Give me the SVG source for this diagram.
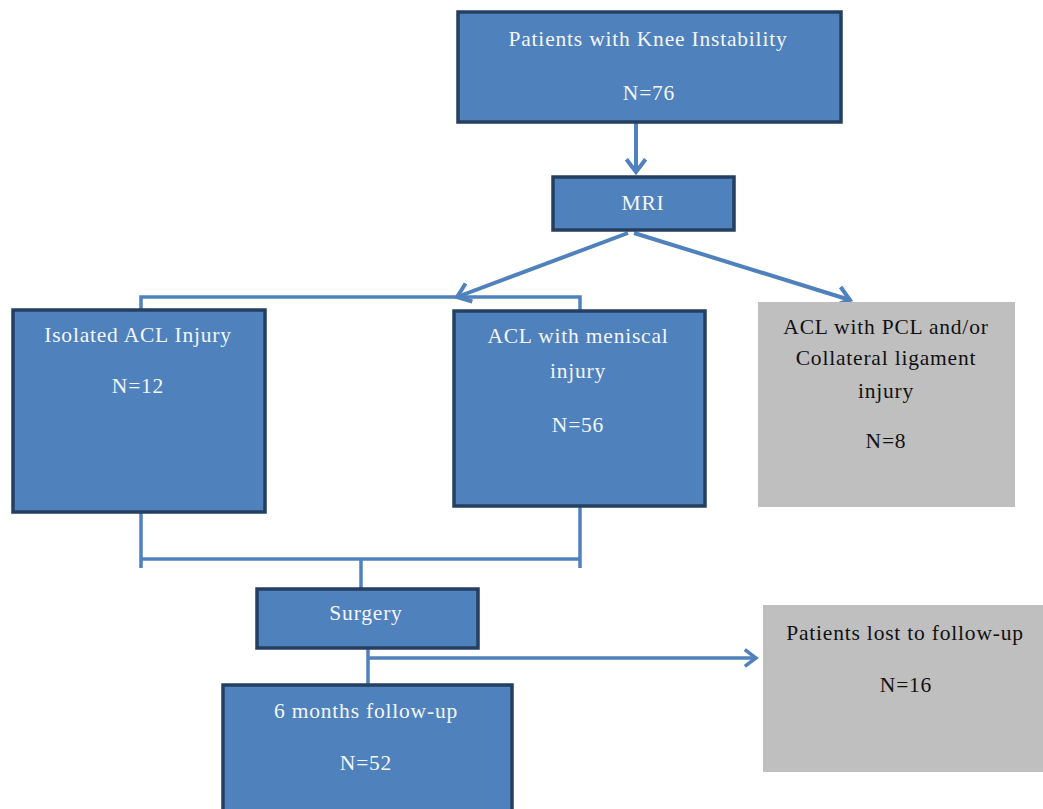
<svg xmlns="http://www.w3.org/2000/svg" width="1043" height="809" viewBox="0 0 1043 809">
<defs>
<marker id="arr" markerWidth="6" markerHeight="6" refX="4.2" refY="3" orient="auto" markerUnits="strokeWidth" viewBox="0 0 6 6">
<polyline points="1,0.6 4.2,3 1,5.4" fill="none" stroke="#4F81BD" stroke-width="1"/>
</marker>
<style>
.bx{fill:#4F81BD;stroke:#243F60;stroke-width:3.5}
.gb{fill:#BFBFBF}
.t{font-family:"Liberation Serif","Times New Roman",serif;font-size:21.5px;letter-spacing:0.8px;text-anchor:middle;fill:#F4F6FA}
.tk{font-family:"Liberation Serif","Times New Roman",serif;font-size:21.5px;letter-spacing:0.8px;text-anchor:middle;fill:#111111}
.c{fill:none;stroke:#4F81BD;stroke-width:4}
.c3{fill:none;stroke:#4F81BD;stroke-width:3.5}
</style>
</defs>
<rect width="1043" height="809" fill="#FFFFFF"/>
<g id="connectors">
<line class="c" x1="636" y1="123" x2="636" y2="172" marker-end="url(#arr)"/>
<line class="c" x1="628" y1="233" x2="457" y2="297" marker-end="url(#arr)"/>
<line class="c" x1="634" y1="233" x2="850" y2="300" marker-end="url(#arr)"/>
<polyline class="c3" points="141,309 141,297 580,297 580,310"/>
<polyline class="c3" points="141,513 141,568"/>
<polyline class="c3" points="580,507 580,568"/>
<line class="c3" x1="141" y1="559" x2="580" y2="559"/>
<line class="c3" x1="361" y1="559" x2="361" y2="589"/>
<line class="c3" x1="368" y1="649" x2="368" y2="685"/>
<line class="c3" x1="368" y1="658" x2="756" y2="658" marker-end="url(#arr)"/>
</g>
<g id="n1">
<rect class="bx" x="458" y="12" width="383" height="110"/>
<text class="t" x="648" y="46">Patients with Knee Instability</text>
<text class="t" x="649" y="100">N=76</text>
</g>
<g id="n2">
<rect class="bx" x="553" y="177" width="181" height="53"/>
<text class="t" x="643" y="210">MRI</text>
</g>
<g id="n3">
<rect class="bx" x="13" y="310" width="252" height="202"/>
<text class="t" x="138" y="342">Isolated ACL Injury</text>
<text class="t" x="138" y="393">N=12</text>
</g>
<g id="n4">
<rect class="bx" x="454" y="311" width="251" height="195"/>
<text class="t" x="578" y="343">ACL with meniscal</text>
<text class="t" x="578" y="378">injury</text>
<text class="t" x="578" y="432">N=56</text>
</g>
<g id="n5">
<rect class="gb" x="758" y="302" width="257" height="205"/>
<text class="tk" x="886" y="334">ACL with PCL and/or</text>
<text class="tk" x="886" y="365">Collateral ligament</text>
<text class="tk" x="886" y="398">injury</text>
<text class="tk" x="886" y="448">N=8</text>
</g>
<g id="n6">
<rect class="bx" x="257" y="589" width="221" height="59"/>
<text class="t" x="366" y="620">Surgery</text>
</g>
<g id="n7">
<rect class="gb" x="763" y="605" width="280" height="167"/>
<text class="tk" x="905" y="640">Patients lost to follow-up</text>
<text class="tk" x="906" y="692">N=16</text>
</g>
<g id="n8">
<rect class="bx" x="223" y="685" width="289" height="130"/>
<text class="t" x="366" y="718">6 months follow-up</text>
<text class="t" x="366" y="770">N=52</text>
</g>
</svg>
